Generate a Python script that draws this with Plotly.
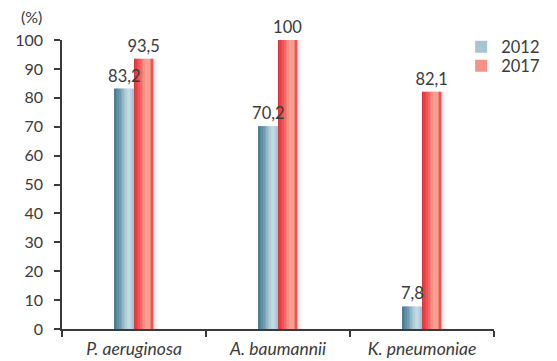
import plotly.graph_objects as go

# Data
categories = ["P. aeruginosa", "A. baumannii", "K. pneumoniae"]
years = ["2012", "2017"]
values_2012 = [83.2, 70.2, 7.8]
values_2017 = [93.5, 100, 82.1]
y_ticks = [0, 10, 20, 30, 40, 50, 60, 70, 80, 90, 100]

# Styling
BAR_W = 0.134          # width of one bar in category units
N_SLICES = 12          # slices used to paint a horizontal gradient
TEXT_COLOR = "#3a3a3a"
AXIS_COLOR = "#3a3a3a"
FONT = "Lato"

grad_blue = [(0.0, (70, 122, 148)), (0.25, (100, 148, 170)), (0.55, (168, 198, 211)),
             (0.78, (202, 222, 230)), (1.0, (160, 190, 204))]
grad_red = [(0.0, (226, 42, 52)), (0.3, (238, 88, 88)), (0.6, (247, 160, 146)),
            (0.8, (246, 160, 148)), (1.0, (230, 66, 72))]


def lerp_color(stops, t):
    for (t0, c0), (t1, c1) in zip(stops[:-1], stops[1:]):
        if t0 <= t <= t1:
            f = (t - t0) / (t1 - t0) if t1 > t0 else 0
            c = [round(a + (b - a) * f) for a, b in zip(c0, c1)]
            return f"rgb({c[0]},{c[1]},{c[2]})"
    c = stops[-1][1]
    return f"rgb({c[0]},{c[1]},{c[2]})"


def fmt(v):
    return f"{v:g}".replace(".", ",")


fig = go.Figure()

series = [(years[0], values_2012, grad_blue, -BAR_W, "legend"),
          (years[1], values_2017, grad_red, 0.0, "legend2")]

# gradient-filled bars, painted as narrow adjacent slices
for name, vals, stops, start, leg in series:
    sw = BAR_W / N_SLICES
    for i in range(N_SLICES):
        t = (i + 0.5) / N_SLICES
        fig.add_trace(go.Bar(
            x=categories, y=vals,
            width=sw * 1.08, offset=start + i * sw,
            marker=dict(color=lerp_color(stops, t), line=dict(width=0)),
            name=name, legendgroup=name, legend=leg,
            showlegend=(i == N_SLICES // 2),
            hoverinfo="skip",
        ))

# soft drop shadow on the right side of the 2017 bars
shadow_alphas = [0.16, 0.10, 0.05, 0.02]
for j, a in enumerate(shadow_alphas):
    fig.add_trace(go.Bar(
        x=categories, y=values_2017,
        width=0.011, offset=BAR_W + j * 0.011,
        marker=dict(color=f"rgba(90,90,90,{a})", line=dict(width=0)),
        showlegend=False, hoverinfo="skip",
    ))

# value labels, carried by transparent full-width bars drawn on top
for name, vals, stops, start, leg in series:
    fig.add_trace(go.Bar(
        x=categories, y=vals, width=BAR_W, offset=start,
        marker=dict(color="rgba(0,0,0,0)", line=dict(width=0)),
        text=[fmt(v) for v in vals], textposition="outside",
        constraintext="none",
        textfont=dict(family=FONT, size=16.5, color=TEXT_COLOR),
        cliponaxis=False, showlegend=False, legendgroup=name,
        hovertemplate="%{x}: %{y}<extra>" + name + "</extra>",
    ))

legend_style = dict(
    xref="paper", yref="paper", xanchor="left", yanchor="middle",
    font=dict(family=FONT, size=16.5, color=TEXT_COLOR),
    bgcolor="rgba(0,0,0,0)", itemwidth=30,
)

fig.update_layout(
    width=557, height=361,
    margin=dict(l=62, r=48, t=40, b=32),
    paper_bgcolor="white", plot_bgcolor="white",
    barmode="overlay",
    uniformtext=dict(mode=False),
    font=dict(family=FONT, size=16, color=TEXT_COLOR),
    legend=dict(x=0.924, y=0.976, **legend_style),
    legend2=dict(x=0.924, y=0.910, **legend_style),
    annotations=[dict(
        text="(%)", xref="paper", yref="paper", x=-0.07, y=1.08,
        xanchor="center", yanchor="middle", showarrow=False,
        font=dict(family=FONT, size=16, color=TEXT_COLOR),
    )],
)

fig.update_xaxes(
    type="category", categoryorder="array", categoryarray=categories,
    range=[-0.5, 2.5], automargin=False,
    showline=True, linecolor=AXIS_COLOR, linewidth=1.5,
    ticks="outside", tickson="boundaries", ticklen=6, tickwidth=1.5,
    tickcolor=AXIS_COLOR, showgrid=False, zeroline=False, ticklabelstandoff=3,
    tickfont=dict(family=FONT, size=17.5, color=TEXT_COLOR, style="italic"),
)
fig.update_yaxes(
    range=[0, 100], tickvals=y_ticks, automargin=False,
    showline=True, linecolor=AXIS_COLOR, linewidth=1.5,
    ticks="outside", ticklen=6, tickwidth=1.5, tickcolor=AXIS_COLOR,
    showgrid=False, zeroline=False, ticklabelstandoff=8,
    tickfont=dict(family=FONT, size=16, color=TEXT_COLOR),
)

fig.write_html("out.html")
